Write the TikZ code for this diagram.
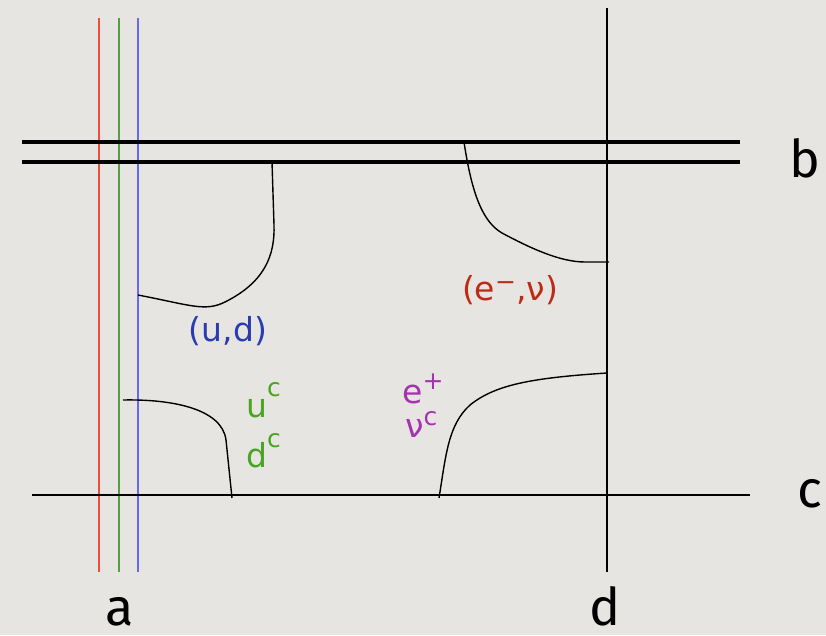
\documentclass[tikz,border=0pt]{standalone}
\usepackage{fontspec}
\setmainfont{Fira Sans}
\newfontfamily\labfont{DejaVu Sans}
\usepackage{tikz}
\usetikzlibrary{calc}
\definecolor{paper}{RGB}{231,229,225}
\definecolor{lred}{RGB}{236,78,58}
\definecolor{lgreen}{RGB}{84,160,62}
\definecolor{lblue}{RGB}{104,104,240}
\definecolor{tblue}{RGB}{42,60,178}
\definecolor{tred}{RGB}{190,42,22}
\definecolor{tgreen}{RGB}{72,165,32}
\definecolor{tpurple}{RGB}{165,50,175}
% raised small index
\newcommand{\supc}[2][0.62em]{\raisebox{#1}{\fontsize{25}{25}\selectfont #2}}
\tikzset{
  brane/.style={line width=3.5pt},
  wire/.style={line width=1.5pt},
  string/.style={line width=1.4pt},
  biglab/.style={inner sep=0pt,anchor=base,font=\fontsize{52}{60}\selectfont},
  smalllab/.style={inner sep=0pt,font=\labfont\fontsize{33}{40}\selectfont},
}
\begin{document}
\begin{tikzpicture}[x=1pt,y=-1pt]
\fill[paper] (0,0) rectangle (826,635);
\useasboundingbox (0,0) rectangle (826,635);

% stacks of branes
\draw[wire,lred] (99,18) -- (99,572);
\draw[wire,lgreen] (119,18) -- (119,572);
\draw[wire,lblue] (138,18) -- (138,572);
\draw[brane] (22,142) -- (740,142);
\draw[brane] (22,162) -- (740,162);
\draw[wire] (607,8) -- (607,572);
\draw[wire] (32,495) -- (750,495);

% open strings
\draw[string] (138,295) .. controls (190,305) and (205,312) .. (225,302)
  .. controls (265,282) and (275,255) .. (274,225) -- (272,162);
\draw[string] (464,142) .. controls (472,195) and (483,222) .. (502,233)
  .. controls (530,248) and (560,262) .. (585,262) -- (609,262);
\draw[string] (123,400) .. controls (170,399) and (222,408) .. (226,440) -- (232,498);
\draw[string] (439,498) .. controls (446,455) and (448,425) .. (470,405)
  .. controls (495,385) and (530,378) .. (607,373);

% labels
\node[biglab] (a) at (120,625) {a};
\node[biglab] (b) at (805,177) {b};
\node[biglab] (c) at (810,507) {c};
\node[biglab] (d) at (605,625) {d};

\node[smalllab,anchor=base,tblue] (ud) at (228,341) {(u,d)};
\node[smalllab,anchor=base,tred] (enu) at (510,300) {(e\supc[0.3em]{−},ν)};
\node[smalllab,anchor=base west,tgreen] (uc) at (246,417) {u\supc{c}};
\node[smalllab,anchor=base west,tgreen] (dc) at (246,467) {d\supc[0.58em]{c}};
\node[smalllab,anchor=base west,tpurple] (ep) at (402,403) {e\supc[0.42em]{+}};
\node[smalllab,anchor=base west,tpurple] (nuc) at (405,437) {ν\supc[0.34em]{c}};
\end{tikzpicture}
\end{document}
